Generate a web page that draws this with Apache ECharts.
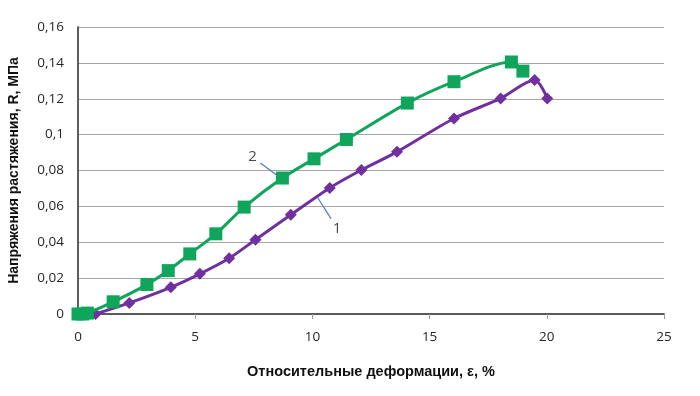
<!DOCTYPE html>
<html>
<head>
<meta charset="utf-8">
<script src="https://cdn.jsdelivr.net/npm/echarts@6/dist/echarts.min.js"></script>
<style>html,body{margin:0;padding:0;background:#fff}#c{width:700px;height:396px}</style>
</head>
<body>
<div id="c"></div>
<script>
// Series 1 (purple diamonds): [strain %, stress MPa]
const series1 = [
  [0.75, 0], [2.19, 0.0062], [3.96, 0.0149], [5.2, 0.0224], [6.45, 0.0311],
  [7.57, 0.0414], [9.08, 0.0553], [10.74, 0.0703], [12.09, 0.0803],
  [13.61, 0.0904], [16.04, 0.109], [18.03, 0.1202], [19.48, 0.1304], [20.02, 0.1202]
];
// Series 2 (green squares)
const series2 = [
  [0, 0], [0.2, 0], [0.4, 0.0005], [1.5, 0.0068], [2.94, 0.0164], [3.85, 0.0242],
  [4.77, 0.0335], [5.88, 0.0447], [7.09, 0.0596], [8.72, 0.0758],
  [10.07, 0.0865], [11.45, 0.0973], [14.05, 0.1176], [16.04, 0.1295],
  [18.49, 0.1405], [18.98, 0.1354]
];
// Annotation labels and leader lines (data coordinates)
const label1 = { text: '1', at: [11.05, 0.0475], leader: [[10.23, 0.0648], [10.8, 0.053]] };
const label2 = { text: '2', at: [7.45, 0.0878], leader: [[7.78, 0.0842], [8.5, 0.0772]] };
const xTicks = [0, 5, 10, 15, 20, 25];
const yTicks = [0, 0.02, 0.04, 0.06, 0.08, 0.1, 0.12, 0.14, 0.16];
const xTitle = 'Относительные деформации, ε, %';
const yTitle = 'Напряжения растяжения, R, МПа';

const chart = echarts.init(document.getElementById('c'), null, { renderer: 'canvas' });
const tickFont = { fontFamily: 'Open Sans', fontSize: 13.5, color: '#262626' };
const fmtY = v => String(+(+v).toFixed(2)).replace('.', ',');
const leaderStyle = { color: '#4a7ebb', width: 1.2 };

function labelSeries(l) {
  return [{
    type: 'line', data: l.leader, symbol: 'none', silent: true, z: 5,
    lineStyle: leaderStyle, animation: false
  }, {
    type: 'scatter', data: [l.at], symbolSize: 0, silent: true, animation: false,
    label: { show: true, formatter: l.text, position: 'inside', fontFamily: 'Open Sans', fontSize: 15, color: '#1a1a1a' }
  }];
}

chart.setOption({
  animation: false,
  grid: { left: 78, right: 36, top: 27, bottom: 82, containLabel: false, outerBoundsMode: 'none' },
  xAxis: [{
    type: 'value', min: 0, max: 25, interval: 5,
    axisLine: { show: true, lineStyle: { color: '#9a9a9a', width: 1.5 } },
    axisTick: { show: true, inside: false, length: 5, lineStyle: { color: '#9a9a9a' } },
    axisLabel: Object.assign({ margin: 16, formatter: v => xTicks.includes(v) ? String(v) : '' }, tickFont),
    splitLine: { show: false },
    name: xTitle, nameLocation: 'middle', nameGap: 50,
    nameTextStyle: { fontFamily: 'Liberation Sans', fontWeight: 'bold', fontSize: 14.5, color: '#111' }
  }, {
    type: 'value', min: 0, max: 25, position: 'top',
    axisLine: { show: true, lineStyle: { color: '#404040', width: 1.5 } },
    axisTick: { show: false }, axisLabel: { show: false }, splitLine: { show: false }
  }],
  yAxis: [{
    type: 'value', min: 0, max: 0.16, interval: 0.02,
    axisLine: { show: true, lineStyle: { color: '#9a9a9a', width: 1.5 } },
    axisTick: { show: false },
    axisLabel: Object.assign({ margin: 14, formatter: v => fmtY(v) }, tickFont),
    splitLine: { show: true, lineStyle: { color: '#a6a6a6', width: 1.2 } },
    name: yTitle, nameLocation: 'middle', nameGap: 57, nameRotate: 90,
    nameTextStyle: { fontFamily: 'Liberation Sans', fontWeight: 'bold', fontSize: 14, color: '#111' }
  }, {
    type: 'value', min: 0, max: 0.16, position: 'right',
    axisLine: { show: true, lineStyle: { color: '#404040', width: 1.5 } },
    axisTick: { show: false }, axisLabel: { show: false }, splitLine: { show: false }
  }],
  series: [{
    name: '1', type: 'line', data: series1, smooth: 0.3,
    symbol: 'diamond', symbolSize: 12,
    itemStyle: { color: '#7030a0' }, lineStyle: { color: '#7030a0', width: 3 }, z: 3
  }, {
    name: '2', type: 'line', data: series2, smooth: 0.3,
    symbol: 'rect', symbolSize: 13,
    itemStyle: { color: '#0fa55a' }, lineStyle: { color: '#0fa55a', width: 3 }, z: 4
  }].concat(labelSeries(label1), labelSeries(label2))
});
</script>
</body>
</html>
